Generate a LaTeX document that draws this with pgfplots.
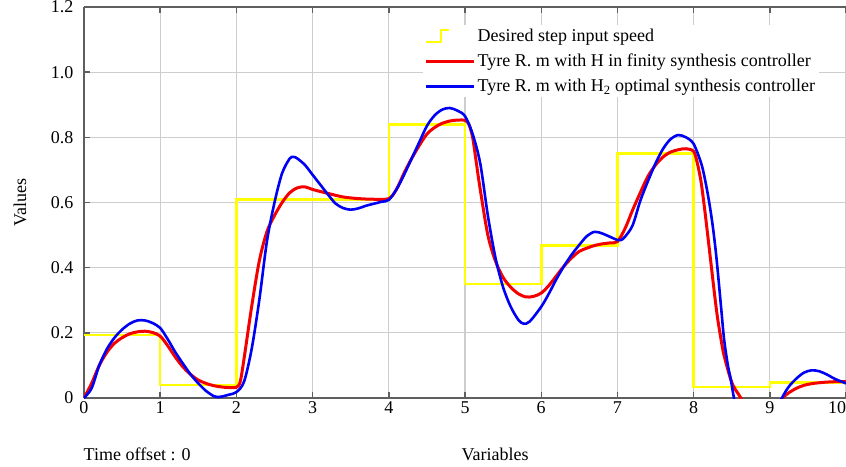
\documentclass[border=0pt]{standalone}
\usepackage{pgfplots}
\pgfplotsset{compat=1.18}
\usepackage{fontspec}
\setmainfont{Liberation Serif}
\definecolor{axgray}{RGB}{95,95,95}
\definecolor{gridgray}{RGB}{205,205,205}
\definecolor{ylw}{RGB}{255,255,0}
\definecolor{rd}{RGB}{245,0,0}
\definecolor{bl}{RGB}{0,0,245}

\pgfplotsset{
  steplegend/.style={legend image code/.code={\draw[##1] (0pt,-6pt) -- (15pt,-6pt) -- (15pt,6pt) -- (23pt,6pt);}},
  linelegend/.style={legend image code/.code={\draw[##1] (0pt,0pt) -- (48pt,0pt);}},
}

% desired step input speed
\pgfplotstableread{
x y
0 0.193
1 0.040
2 0.61
4 0.84
5 0.35
6 0.468
7 0.75
8 0.034
9 0.048
10 0.048
}\stepdata

% H infinity controller response
\pgfplotstableread{
x y
0 0
0.1 0.045
0.2 0.10
0.3 0.14
0.4 0.168
0.5 0.185
0.6 0.197
0.7 0.203
0.8 0.205
0.9 0.201
1.0 0.19
1.1 0.16
1.2 0.125
1.3 0.095
1.4 0.072
1.5 0.055
1.6 0.045
1.7 0.038
1.8 0.034
1.9 0.032
2.0 0.033
2.05 0.05
2.1 0.12
2.2 0.28
2.3 0.42
2.4 0.51
2.5 0.56
2.6 0.60
2.7 0.63
2.8 0.645
2.9 0.648
3.0 0.64
3.2 0.628
3.4 0.617
3.6 0.612
3.8 0.61
4.0 0.612
4.1 0.64
4.2 0.69
4.3 0.735
4.4 0.775
4.5 0.81
4.6 0.83
4.7 0.843
4.8 0.85
4.9 0.853
5.0 0.852
5.05 0.84
5.1 0.80
5.15 0.72
5.2 0.64
5.3 0.50
5.4 0.42
5.5 0.37
5.6 0.34
5.7 0.32
5.8 0.31
5.9 0.312
6.0 0.322
6.1 0.345
6.2 0.375
6.3 0.405
6.4 0.43
6.5 0.45
6.6 0.46
6.7 0.468
6.8 0.473
6.9 0.476
7.0 0.48
7.1 0.52
7.2 0.577
7.3 0.63
7.4 0.68
7.5 0.715
7.6 0.74
7.7 0.755
7.8 0.762
7.9 0.765
8.0 0.757
8.05 0.72
8.1 0.66
8.15 0.57
8.2 0.47
8.3 0.27
8.36 0.18
8.4 0.13
8.49 0.055
8.55 0.025
8.62 0.0
8.7 -0.05
8.9 -0.12
9.1 -0.03
9.17 0.0
9.25 0.016
9.35 0.03
9.45 0.039
9.55 0.044
9.7 0.048
9.85 0.05
10 0.05
}\hinf

% H2 controller response
\pgfplotstableread{
x y
0 0
0.1 0.03
0.2 0.10
0.3 0.15
0.4 0.185
0.5 0.21
0.6 0.228
0.7 0.238
0.8 0.238
0.9 0.23
1.0 0.215
1.1 0.18
1.2 0.14
1.3 0.105
1.4 0.072
1.5 0.045
1.6 0.022
1.7 0.006
1.75 0.003
1.8 0.004
1.9 0.01
2.0 0.018
2.1 0.05
2.2 0.15
2.3 0.30
2.4 0.48
2.5 0.60
2.6 0.69
2.7 0.735
2.75 0.74
2.8 0.735
2.9 0.715
3.0 0.685
3.1 0.655
3.2 0.625
3.3 0.597
3.4 0.583
3.5 0.578
3.6 0.582
3.7 0.59
3.8 0.596
3.9 0.602
4.0 0.608
4.1 0.64
4.2 0.685
4.3 0.735
4.4 0.785
4.5 0.835
4.6 0.867
4.7 0.885
4.8 0.89
4.9 0.882
5.0 0.865
5.1 0.81
5.2 0.72
5.3 0.56
5.4 0.43
5.5 0.34
5.6 0.28
5.7 0.24
5.77 0.228
5.85 0.235
6.0 0.28
6.1 0.32
6.2 0.365
6.3 0.405
6.4 0.44
6.5 0.47
6.6 0.497
6.7 0.51
6.8 0.505
6.9 0.495
7.0 0.485
7.05 0.485
7.1 0.495
7.2 0.53
7.3 0.605
7.4 0.665
7.5 0.72
7.6 0.765
7.7 0.795
7.8 0.807
7.9 0.80
8.0 0.78
8.1 0.72
8.15 0.67
8.2 0.607
8.25 0.53
8.3 0.43
8.36 0.28
8.4 0.18
8.45 0.10
8.49 0.055
8.53 0.0
8.6 -0.06
8.8 -0.15
9.0 -0.08
9.16 0.0
9.25 0.035
9.35 0.06
9.45 0.078
9.55 0.085
9.65 0.082
9.75 0.072
9.86 0.058
10 0.045
}\htwo

\begin{document}
\begin{tikzpicture}
\begin{axis}[
    scale only axis,
    width=762pt,
    height=391pt,
    xmin=0, xmax=10,
    ymin=0, ymax=1.2,
    axis x line*=box,
    axis y line*=left,
    axis line style={-, draw=axgray, line width=1.8pt},
    xtick={0,1,...,10},
    xticklabels={0,1,2,3,4,5,6,7,8,9,\llap{10}},
    ytick={0,0.2,0.4,0.6,0.8,1.0,1.2},
    yticklabels={0,0.2,0.4,0.6,0.8,1.0,1.2},
    tick align=inside,
    major tick length=6pt,
    tick style={draw=axgray, line width=1.4pt},
    grid=major,
    grid style={draw=gridgray, line width=1.1pt},
    tick label style={font=\fontsize{18}{21}\selectfont},
    yticklabel style={xshift=-7pt},
    xlabel={Variables},
    xlabel style={at={(axis description cs:0.491,-0.159)}, anchor=base west, font=\fontsize{18}{21}\selectfont},
    ylabel={Values},
    ylabel style={at={(axis description cs:-0.084,0.5)}, anchor=center, font=\fontsize{18}{21}\selectfont},
    legend style={at={(axis description cs:0.444,0.954)}, anchor=north west,
        draw=none, fill=white, font=\fontsize{18}{21}\selectfont,
        row sep=7pt, inner sep=2pt,
        /tikz/every even column/.append style={column sep=9pt}},
    legend cell align=left,
    clip mode=individual,
]
\addplot[const plot, draw=ylw, line width=2.6pt, steplegend]
    table {\stepdata};
\addlegendentry{Desired step input speed}
\addplot[smooth, draw=rd, line width=3pt, linelegend]
    table {\hinf};
\addlegendentry{Tyre R. m with H in finity synthesis controller}
\addplot[smooth, draw=bl, line width=2.6pt, linelegend]
    table {\htwo};
\addlegendentry{Tyre R. m with H\textsubscript{2} optimal synthesis controller}
\node[anchor=base west, font=\fontsize{18}{21}\selectfont]
    at (axis description cs:-0.005,-0.159) {Time offset : 0};
\coordinate (bl) at (axis description cs:0,0);
\coordinate (tr) at (axis description cs:1,1);
\end{axis}
\pgfresetboundingbox
\path ([shift={(-84pt,-68pt)}]bl) rectangle ([shift={(0pt,7pt)}]tr);
\end{tikzpicture}
\end{document}
